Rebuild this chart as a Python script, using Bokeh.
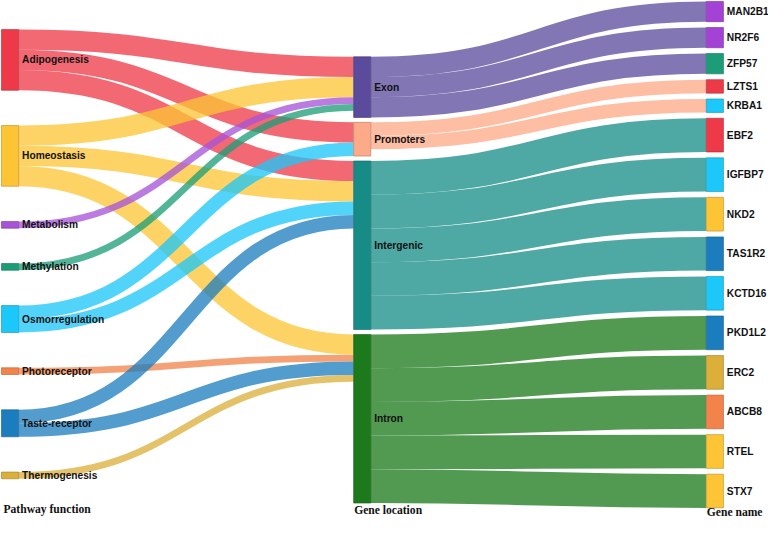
import numpy as np
from bokeh.plotting import figure
from bokeh.models import Range1d
from bokeh.core.properties import value
from bokeh.embed import file_html
from bokeh.resources import INLINE

# ---------------- data ----------------
pathways = ["Adipogenesis", "Homeostasis", "Metabolism", "Methylation",
            "Osmorregulation", "Photoreceptor", "Taste-receptor", "Thermogenesis"]
pathway_colors = ["#EE3A48", "#FDC535", "#A653D8", "#1B9E77",
                  "#1CC7F9", "#F2834B", "#1C7DBE", "#DBAF3A"]

locations = ["Exon", "Promoters", "Intergenic", "Intron"]
location_colors = ["#5B4B9C", "#FDAA88", "#178C86", "#1C7A1C"]

genes = ["MAN2B1", "NR2F6", "ZFP57", "LZTS1", "KRBA1", "EBF2", "IGFBP7", "NKD2",
         "TAS1R2", "KCTD16", "PKD1L2", "ERC2", "ABCB8", "RTEL", "STX7"]
gene_colors = ["#A542D6", "#A542D6", "#1B9E77", "#EE3A48", "#1CC7F9", "#EE3A48",
               "#1CC7F9", "#FDC535", "#1C7DBE", "#1CC7F9", "#1C7DBE", "#DBAF3A",
               "#F2834B", "#FDC535", "#FDC535"]

# pathway -> location links
pl_source = ["Adipogenesis", "Adipogenesis", "Adipogenesis",
             "Homeostasis", "Homeostasis", "Homeostasis",
             "Metabolism", "Methylation",
             "Osmorregulation", "Osmorregulation",
             "Photoreceptor",
             "Taste-receptor", "Taste-receptor",
             "Thermogenesis"]
pl_target = ["Exon", "Promoters", "Intergenic",
             "Exon", "Intergenic", "Intron",
             "Exon", "Exon",
             "Promoters", "Intergenic",
             "Intron",
             "Intergenic", "Intron",
             "Intron"]
pl_value = [3, 3, 3, 3, 3, 3, 1, 1, 2, 2, 1, 2, 2, 1]

# location -> gene links
lg_source = ["Exon", "Exon", "Exon", "Promoters", "Promoters",
             "Intergenic", "Intergenic", "Intergenic", "Intergenic", "Intergenic",
             "Intron", "Intron", "Intron", "Intron", "Intron"]
lg_target = genes
lg_value = [3, 3, 3, 2, 2, 5, 5, 5, 5, 5, 5, 5, 5, 5, 5]

column_titles = ["Pathway function", "Gene location", "Gene name"]

# ---------------- layout ----------------
K = 6.95                       # px per unit (reference px)
YSCALE = 520 / 536             # screen px per reference px
col_x0 = [1.0, 360.5, 720.5]
node_w = 17.5
col_top = [30.0, 58.0, 1.0]
col_bot = [493.0, 518.0, 523.0]

columns = [pathways, locations, genes]
colors = [pathway_colors, location_colors, gene_colors]
links = [(s, t, v) for s, t, v in zip(pl_source, pl_target, pl_value)] + \
        [(s, t, v) for s, t, v in zip(lg_source, lg_target, lg_value)]

nodes = {}
for ci, col in enumerate(columns):
    vals = []
    for n in col:
        vin = sum(v for s, t, v in links if t == n)
        vout = sum(v for s, t, v in links if s == n)
        vals.append(max(vin, vout))
    total = sum(vals) * K
    gap = (col_bot[ci] - col_top[ci] - total) / (len(col) - 1)
    y = col_top[ci]
    for n, v, c in zip(col, vals, colors[ci]):
        h = v * K
        nodes[n] = dict(x0=col_x0[ci], x1=col_x0[ci] + node_w, y0=y, y1=y + h,
                        color=c, col=ci, out_off=0.0, in_off=0.0)
        y += h + gap


def darker(hexc, f=0.72):
    h = hexc.lstrip("#")
    r, g, b = (int(h[i:i + 2], 16) for i in (0, 2, 4))
    return "#%02x%02x%02x" % (int(r * f), int(g * f), int(b * f))


p = figure(width=768, height=520, output_backend="svg", toolbar_location=None,
           x_range=Range1d(0, 784), y_range=Range1d(536, 0), min_border=0,
           x_axis_location=None, y_axis_location=None)
p.grid.visible = False
p.outline_line_color = None
p.background_fill_color = "white"
p.border_fill_color = "white"

order = {n: i for col in columns for i, n in enumerate(col)}
link_sorted = sorted(links, key=lambda l: (nodes[l[0]]["col"], order[l[0]], order[l[1]]))
src_y = {}
for s, t, v in link_sorted:
    ns = nodes[s]
    src_y[(s, t)] = ns["y0"] + ns["out_off"] + v * K / 2
    ns["out_off"] += v * K
tgt_y = {}
for s, t, v in sorted(links, key=lambda l: (nodes[l[1]]["col"], order[l[1]], order[l[0]])):
    nt = nodes[t]
    tgt_y[(s, t)] = nt["y0"] + nt["in_off"] + v * K / 2
    nt["in_off"] += v * K

for s, t, v in link_sorted:
    ns, nt = nodes[s], nodes[t]
    xa, xb = ns["x1"], nt["x0"]
    xm = (xa + xb) / 2
    ya, yb = src_y[(s, t)], tgt_y[(s, t)]
    p.bezier(x0=[xa], y0=[ya], x1=[xb], y1=[yb], cx0=[xm], cy0=[ya], cx1=[xm], cy1=[yb],
             line_color=ns["color"], line_alpha=0.76, line_width=v * K * YSCALE,
             line_cap="butt")

for n, d in nodes.items():
    p.quad(left=[d["x0"]], right=[d["x1"]], top=[d["y0"]], bottom=[d["y1"]],
           fill_color=d["color"], fill_alpha=1.0, line_color=darker(d["color"]),
           line_width=1, line_alpha=0.6)

lx = [d["x1"] + 3.5 for d in nodes.values()]
ly = [(d["y0"] + d["y1"]) / 2 for d in nodes.values()]
p.text(x=lx, y=ly, text=list(nodes.keys()), text_baseline="middle", text_align="left",
       text_font=value("Liberation Sans"), text_font_style="bold",
       text_font_size="10.2px", text_color="#111111")

p.text(x=[3, 361, 721], y=[525, 526, 528], text=column_titles,
       text_baseline="middle", text_align="left",
       text_font=value("Liberation Serif"), text_font_style="bold",
       text_font_size="11.6px", text_color="#111111")

open("out.html", "w").write(file_html(p, INLINE))
